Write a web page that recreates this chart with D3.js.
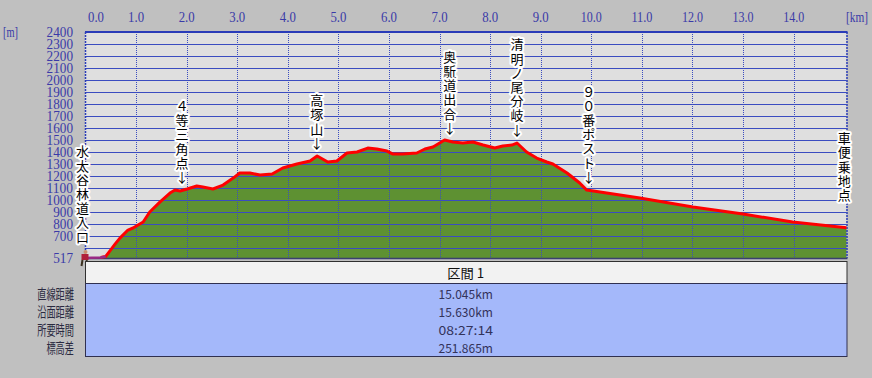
<!DOCTYPE html>
<html>
<head>
<meta charset="utf-8">
<script src="https://cdn.jsdelivr.net/npm/d3@7"></script>
<style>
  body { margin: 0; background: #c0c0c0; }
  svg { display: block; }
</style>
</head>
<body>
<div id="chart"></div>
<script>
// profile data (distance km, elevation m)
const distKm = [0.00, 0.12, 0.30, 0.40, 0.48, 0.58, 0.68, 0.84, 0.94, 1.04, 1.14, 1.27, 1.47, 1.67, 1.77, 1.87,
  2.01, 2.20, 2.32, 2.52, 2.72, 2.92, 3.05, 3.25, 3.45, 3.69, 3.90, 4.18, 4.44, 4.58, 4.79, 4.97,
  5.17, 5.37, 5.58, 5.76, 5.96, 6.08, 6.27, 6.55, 6.71, 6.87, 7.10, 7.26, 7.46, 7.66, 7.86, 8.09,
  8.25, 8.43, 8.53, 8.72, 8.92, 9.12, 9.24, 9.52, 9.77, 9.91, 10.96, 12.01, 13.00, 13.98, 15.045];
const elevM = [517, 520, 522, 530, 575, 630, 683, 750, 767, 792, 817, 900, 983, 1058, 1083, 1075,
  1092, 1117, 1108, 1092, 1125, 1183, 1225, 1225, 1208, 1217, 1267, 1300, 1325, 1367, 1317, 1325,
  1392, 1400, 1433, 1425, 1408, 1383, 1383, 1392, 1425, 1442, 1500, 1483, 1475, 1483, 1458, 1433,
  1450, 1458, 1475, 1400, 1350, 1317, 1300, 1225, 1142, 1083, 1017, 942, 883, 817, 769];

const xTicks = d3.range(0, 15, 1);
const yTicks = d3.range(700, 2401, 100);
const gridElev = d3.range(600, 2400, 100);
const minElev = 517;

const pointNames = ["水太谷林道入口", "４等三角点", "高塚山", "奥駈道出合", "清明ノ尾分岐", "９０番ポスト", "車便乗地点"];
const pointKm = [0, 1.91, 4.57, 7.20, 8.53, 9.95, 15.0];
const pointArrow = [false, true, true, true, true, true, false];

const sectionTitle = "区間 1";
const rowLabels = ["直線距離", "沿面距離", "所要時間", "標高差"];
const rowValues = ["15.045km", "15.630km", "08:27:14", "251.865m"];

const width = 872, height = 378;
const plot = { left: 85, right: 846.5, top: 32, bottom: 258 };

const svg = d3.select("#chart").append("svg")
  .attr("width", width)
  .attr("height", height);

svg.append("rect").attr("width", width).attr("height", height).attr("fill", "#c0c0c0");

const x = d3.scaleLinear().domain([0, 15.045]).range([plot.left + 0.5, plot.right]);
const y = d3.scaleLinear().domain([minElev, 2400]).range([plot.bottom, plot.top]);

const profile = distKm.map((d, i) => ({ km: d, m: elevM[i] }));
const elevAt = km => {
  const i = d3.bisector(d => d.km).left(profile, km);
  if (i <= 0) return profile[0].m;
  if (i >= profile.length) return profile[profile.length - 1].m;
  const a = profile[i - 1], b = profile[i];
  return a.m + (b.m - a.m) * (km - a.km) / (b.km - a.km);
};

// plot background
svg.append("rect")
  .attr("x", plot.left).attr("y", plot.top)
  .attr("width", plot.right - plot.left).attr("height", plot.bottom - plot.top)
  .attr("fill", "#dfdfdf");

// green area
svg.append("path")
  .datum(profile)
  .attr("fill", "#5e9132")
  .attr("d", d3.area().x(d => x(d.km)).y0(plot.bottom).y1(d => y(d.m)));

// horizontal grid
svg.append("g").selectAll("line")
  .data(gridElev)
  .join("line")
  .attr("x1", plot.left).attr("x2", plot.right)
  .attr("y1", d => Math.round(y(d)) + 0.5).attr("y2", d => Math.round(y(d)) + 0.5)
  .attr("stroke", "#3a4cc0").attr("stroke-width", 1);

// vertical dotted grid
svg.append("g").selectAll("line")
  .data(xTicks.slice(1))
  .join("line")
  .attr("x1", d => Math.round(x(d)) + 0.5).attr("x2", d => Math.round(x(d)) + 0.5)
  .attr("y1", plot.top).attr("y2", plot.bottom)
  .attr("stroke", "#3a4cc0").attr("stroke-width", 1)
  .attr("stroke-dasharray", "1,1");

// frame
svg.append("line")
  .attr("x1", plot.left).attr("x2", plot.right + 1)
  .attr("y1", plot.top).attr("y2", plot.top)
  .attr("stroke", "#2a3cb8").attr("stroke-width", 2);
svg.append("line")
  .attr("x1", plot.left + 0.5).attr("x2", plot.left + 0.5)
  .attr("y1", plot.top).attr("y2", plot.bottom)
  .attr("stroke", "#2a3cb8").attr("stroke-width", 1.5).attr("stroke-dasharray", "2,1");
svg.append("line")
  .attr("x1", plot.right + 0.5).attr("x2", plot.right + 0.5)
  .attr("y1", plot.top).attr("y2", plot.bottom)
  .attr("stroke", "#2a3cb8").attr("stroke-width", 1.5).attr("stroke-dasharray", "2,1");
svg.append("line")
  .attr("x1", plot.left).attr("x2", plot.right + 1)
  .attr("y1", plot.bottom + 0.5).attr("y2", plot.bottom + 0.5)
  .attr("stroke", "#3a3f70").attr("stroke-width", 1.5);

// red profile line (start stretch drawn purple)
const line = d3.line().x(d => x(d.km)).y(d => y(d.m));
svg.append("path")
  .datum(profile.filter(d => d.km >= 0.3))
  .attr("fill", "none")
  .attr("stroke", "#ff0000").attr("stroke-width", 3).attr("stroke-linejoin", "round")
  .attr("d", line);
svg.append("path")
  .datum(profile.filter(d => d.km <= 0.4))
  .attr("fill", "none")
  .attr("stroke", "#9a2a86").attr("stroke-width", 2.5)
  .attr("d", line);

// axes labels
const axisFont = "'Liberation Serif', 'DejaVu Serif', serif";
svg.append("g").selectAll("text")
  .data(xTicks)
  .join("text")
  .attr("x", d => d === 0 ? plot.left + 3 : x(d))
  .attr("y", 22)
  .attr("text-anchor", d => d === 0 ? "start" : "middle")
  .attr("font-family", axisFont).attr("font-size", 14)
  .attr("textLength", d => d >= 10 ? 21 : 16).attr("lengthAdjust", "spacingAndGlyphs")
  .attr("fill", "#3a3aa8")
  .text(d => d.toFixed(1));
svg.append("text")
  .attr("x", 846).attr("y", 22)
  .attr("font-family", axisFont).attr("font-size", 14)
  .attr("textLength", 22).attr("lengthAdjust", "spacingAndGlyphs")
  .attr("fill", "#3a3aa8").text("[km]");

svg.append("g").selectAll("text")
  .data(yTicks.concat([minElev]))
  .join("text")
  .attr("x", 73)
  .attr("y", d => y(d) + 5)
  .attr("text-anchor", "end")
  .attr("font-family", axisFont).attr("font-size", 15)
  .attr("textLength", d => String(d).length * 6.6).attr("lengthAdjust", "spacingAndGlyphs")
  .attr("fill", "#3a3aa8")
  .text(d => d);
svg.append("text")
  .attr("x", 3).attr("y", 37)
  .attr("font-family", axisFont).attr("font-size", 14)
  .attr("textLength", 15).attr("lengthAdjust", "spacingAndGlyphs")
  .attr("fill", "#3a3aa8").text("[m]");

// waypoint labels, stacked vertically
const cjk = "'Noto Sans CJK JP', 'Noto Sans', sans-serif";
const step = 14.2;
const labels = svg.append("g");
pointNames.forEach((name, i) => {
  const chars = Array.from(name);
  if (pointArrow[i]) chars.push("↓");
  const px = i === 0 ? x(pointKm[i]) - 3 : x(pointKm[i]);
  const py = y(elevAt(pointKm[i]));
  let lastY;
  if (i === 0) lastY = py - 21;
  else if (i === pointNames.length - 1) lastY = py - 32;
  else lastY = py - 13;
  labels.append("g").selectAll("text")
    .data(chars)
    .join("text")
    .attr("x", px)
    .attr("y", (c, j) => lastY - (chars.length - 1 - j) * step + 4.5)
    .attr("text-anchor", "middle")
    .attr("font-family", cjk).attr("font-size", 13)
    .attr("fill", "#000")
    .attr("stroke", "#fff").attr("stroke-width", 4).attr("stroke-linejoin", "round")
    .attr("paint-order", "stroke")
    .text(c => c);
});

// walker marker at start
const walker = svg.append("g").attr("transform", `translate(${x(0)},${plot.bottom})`);
walker.append("circle").attr("cx", 0).attr("cy", -6).attr("r", 2).attr("fill", "#c89070");
walker.append("rect").attr("x", -4).attr("y", -4).attr("width", 7).attr("height", 6).attr("fill", "#b0203a");
walker.append("path").attr("d", "M-3,2 L-4,8 M1,2 L3,8").attr("stroke", "#3a3020").attr("stroke-width", 2);

// summary table
const tableFont = cjk;
const tbl = svg.append("g");
tbl.append("rect")
  .attr("x", plot.left + 0.5).attr("y", 261.5)
  .attr("width", plot.right - plot.left).attr("height", 22)
  .attr("fill", "#f2f2f2").attr("stroke", "#303030");
tbl.append("rect")
  .attr("x", plot.left + 0.5).attr("y", 283.5)
  .attr("width", plot.right - plot.left).attr("height", 73)
  .attr("fill", "#a4b8fa").attr("stroke", "#303050");

const midX = (plot.left + plot.right) / 2;
tbl.append("text")
  .attr("x", midX).attr("y", 277.5)
  .attr("text-anchor", "middle")
  .attr("font-family", tableFont).attr("font-size", 13)
  .attr("textLength", 37).attr("lengthAdjust", "spacingAndGlyphs")
  .attr("fill", "#111").text(sectionTitle);

tbl.append("g").selectAll("text")
  .data(rowLabels)
  .join("text")
  .attr("x", 74).attr("y", (d, i) => 298.5 + i * 18.3)
  .attr("text-anchor", "end")
  .attr("font-family", tableFont).attr("font-size", 13.5)
  .attr("textLength", d => d.length * 9.2).attr("lengthAdjust", "spacingAndGlyphs")
  .attr("fill", "#2a2a40").text(d => d);

tbl.append("g").selectAll("text")
  .data(rowValues)
  .join("text")
  .attr("x", midX).attr("y", (d, i) => 298.5 + i * 18.3)
  .attr("text-anchor", "middle")
  .attr("font-family", tableFont).attr("font-size", 12.5)
  .attr("textLength", d => d.length * 6.8).attr("lengthAdjust", "spacingAndGlyphs")
  .attr("fill", "#33335a").text(d => d);
</script>
</body>
</html>
